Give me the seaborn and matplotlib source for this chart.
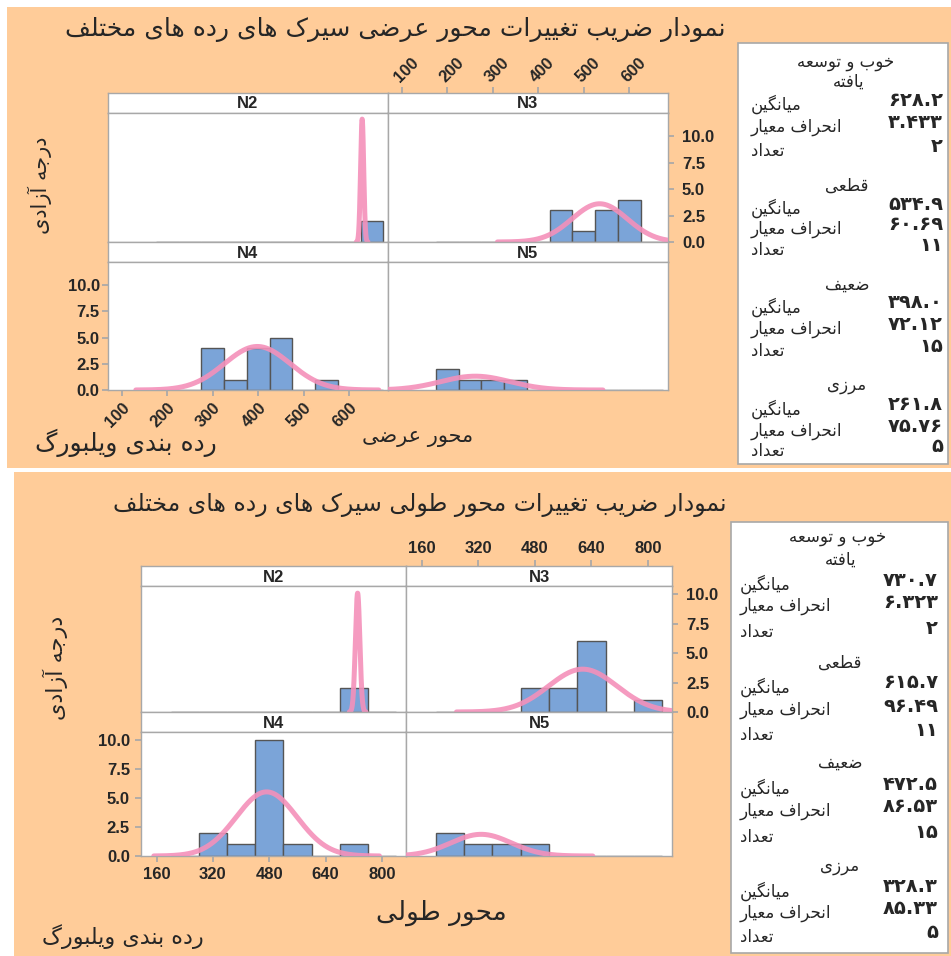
import numpy as np
import pandas as pd
import matplotlib
matplotlib.use("Agg")
import matplotlib.pyplot as plt
from matplotlib.patches import Rectangle
import seaborn as sns

# ---------------- data ----------------
panels = ["N2", "N3", "N4", "N5"]
groups = ["خوب و توسعه یافته", "قطعی", "ضعیف", "مرزی"]
stat_labels = ["میانگین", "انحراف معیار", "تعداد"]

# top chart: محور عرضی
w_bins = [175, 225, 275, 325, 375, 425, 475, 525, 575, 625, 675]
w_centers = [200, 250, 300, 350, 400, 450, 500, 550, 600, 650]
w_counts_N2 = [0, 0, 0, 0, 0, 0, 0, 0, 0, 2]
w_counts_N3 = [0, 0, 0, 0, 0, 3, 1, 3, 4, 0]
w_counts_N4 = [0, 0, 4, 1, 4, 5, 0, 1, 0, 0]
w_counts_N5 = [2, 1, 1, 1, 0, 0, 0, 0, 0, 0]
w_mean = [628.2, 534.9, 398.0, 261.8]
w_sd = [3.433, 60.69, 72.12, 75.76]
w_n = [2, 11, 15, 5]
w_xticks = [100, 200, 300, 400, 500, 600]

# bottom chart: محور طولی
l_bins = [200, 280, 360, 440, 520, 600, 680, 760, 840]
l_centers = [240, 320, 400, 480, 560, 640, 720, 800]
l_counts_N2 = [0, 0, 0, 0, 0, 0, 2, 0]
l_counts_N3 = [0, 0, 0, 2, 2, 6, 0, 1]
l_counts_N4 = [0, 2, 1, 10, 1, 0, 1, 0]
l_counts_N5 = [2, 1, 1, 1, 0, 0, 0, 0]
l_mean = [730.7, 615.7, 472.5, 328.3]
l_sd = [6.323, 96.49, 86.53, 85.33]
l_n = [2, 11, 15, 5]
l_xticks = [160, 320, 480, 640, 800]

y_ticks = [0.0, 2.5, 5.0, 7.5, 10.0]

# ---------------- Persian shaping ----------------
FORMS = {
    '\u0627': ('\uFE8D', '\uFE8E', None, None),
    '\u0622': ('\uFE81', '\uFE82', None, None),
    '\u0628': ('\uFE8F', '\uFE90', '\uFE91', '\uFE92'),
    '\u067E': ('\uFB56', '\uFB57', '\uFB58', '\uFB59'),
    '\u062A': ('\uFE95', '\uFE96', '\uFE97', '\uFE98'),
    '\u062B': ('\uFE99', '\uFE9A', '\uFE9B', '\uFE9C'),
    '\u062C': ('\uFE9D', '\uFE9E', '\uFE9F', '\uFEA0'),
    '\u0686': ('\uFB7A', '\uFB7B', '\uFB7C', '\uFB7D'),
    '\u062D': ('\uFEA1', '\uFEA2', '\uFEA3', '\uFEA4'),
    '\u062E': ('\uFEA5', '\uFEA6', '\uFEA7', '\uFEA8'),
    '\u062F': ('\uFEA9', '\uFEAA', None, None),
    '\u0630': ('\uFEAB', '\uFEAC', None, None),
    '\u0631': ('\uFEAD', '\uFEAE', None, None),
    '\u0632': ('\uFEAF', '\uFEB0', None, None),
    '\u0698': ('\uFB8A', '\uFB8B', None, None),
    '\u0633': ('\uFEB1', '\uFEB2', '\uFEB3', '\uFEB4'),
    '\u0634': ('\uFEB5', '\uFEB6', '\uFEB7', '\uFEB8'),
    '\u0635': ('\uFEB9', '\uFEBA', '\uFEBB', '\uFEBC'),
    '\u0636': ('\uFEBD', '\uFEBE', '\uFEBF', '\uFEC0'),
    '\u0637': ('\uFEC1', '\uFEC2', '\uFEC3', '\uFEC4'),
    '\u0638': ('\uFEC5', '\uFEC6', '\uFEC7', '\uFEC8'),
    '\u0639': ('\uFEC9', '\uFECA', '\uFECB', '\uFECC'),
    '\u063A': ('\uFECD', '\uFECE', '\uFECF', '\uFED0'),
    '\u0641': ('\uFED1', '\uFED2', '\uFED3', '\uFED4'),
    '\u0642': ('\uFED5', '\uFED6', '\uFED7', '\uFED8'),
    '\u06A9': ('\uFB8E', '\uFB8F', '\uFB90', '\uFB91'),
    '\u06AF': ('\uFB92', '\uFB93', '\uFB94', '\uFB95'),
    '\u0644': ('\uFEDD', '\uFEDE', '\uFEDF', '\uFEE0'),
    '\u0645': ('\uFEE1', '\uFEE2', '\uFEE3', '\uFEE4'),
    '\u0646': ('\uFEE5', '\uFEE6', '\uFEE7', '\uFEE8'),
    '\u0647': ('\uFEE9', '\uFEEA', '\uFEEB', '\uFEEC'),
    '\u0648': ('\uFEED', '\uFEEE', None, None),
    '\u06CC': ('\uFBFC', '\uFBFD', '\uFBFE', '\uFBFF'),
}


def fa(text):
    chars = list(text)
    out = []
    for i, c in enumerate(chars):
        if c not in FORMS:
            out.append(c)
            continue
        prev = chars[i - 1] if i > 0 else None
        nxt = chars[i + 1] if i + 1 < len(chars) else None
        jp = prev in FORMS and FORMS[prev][2] is not None
        jn = nxt in FORMS and FORMS[c][2] is not None
        iso, fin, ini, med = FORMS[c]
        if jp and jn:
            out.append(med)
        elif jp:
            out.append(fin)
        elif jn:
            out.append(ini)
        else:
            out.append(iso)
    return "".join(reversed(out))


FA_DIGITS = str.maketrans("0123456789", "۰۱۲۳۴۵۶۷۸۹")


def fa_num(v, fmt):
    return format(v, fmt).translate(FA_DIGITS)


# ---------------- figure ----------------
sns.set_theme(style="white")
plt.rcParams["font.family"] = ["Liberation Sans", "DejaVu Sans"]
W, H = 951, 956
fig = plt.figure(figsize=(W / 100, H / 100), dpi=100)
fig.patch.set_facecolor("white")

ORANGE = "#FFCC99"
BAR = "#7BA4D8"
EDGE = "#555555"
PINK = "#F490BA"
GRAY = "#A8A8A8"
FA_FONT = "DejaVu Sans"


def frect(x0, y0, x1, y1, fc, ec="none", lw=0, z=-2):
    fig.patches.append(Rectangle((x0 / W, 1 - y1 / H), (x1 - x0) / W, (y1 - y0) / H,
                                 transform=fig.transFigure, facecolor=fc,
                                 edgecolor=ec, linewidth=lw, zorder=z))


def add_ax(x0, y0, x1, y1):
    ax = fig.add_axes([x0 / W, 1 - y1 / H, (x1 - x0) / W, (y1 - y0) / H])
    ax.set_zorder(2)
    return ax


def ftext(x, y, s, **kw):
    fig.text(x / W, 1 - y / H, s, zorder=5, **kw)


frect(7, 7, 951, 468, ORANGE)
frect(14, 472, 951, 956, ORANGE)

tick_font = dict(fontsize=12, fontweight="bold", family="Liberation Sans")


def style_ax(ax):
    ax.set_facecolor("white")
    for s in ax.spines.values():
        s.set_color(GRAY)
        s.set_linewidth(1.0)
        s.set_visible(True)
    ax.tick_params(length=0, labelbottom=False, labelleft=False)
    ax.set_xlabel("")
    ax.set_ylabel("")


def draw_chart(cols, rows, xlim, ymax, bins, centers, counts, means, sds, xticks,
               rotate, top_pad, right_pad, left_pad, bottom_pad):
    x0, x1, x2 = cols
    h1a, h1b, p1b, h2b, p2b = rows
    cells = [(x0, x1, h1a, h1b, p1b), (x1, x2, h1a, h1b, p1b),
             (x0, x1, p1b, h2b, p2b), (x1, x2, p1b, h2b, p2b)]
    for k, (ca, cb, ha, hb, pb) in enumerate(cells):
        hax = add_ax(ca, ha, cb, hb)
        style_ax(hax)
        hax.set_xlim(xlim)
        hax.set_yticks([])
        hax.set_xticks([])
        hax.text(0.5, 0.45, panels[k], transform=hax.transAxes, ha="center", va="center",
                 fontsize=12, fontweight="bold", family="Liberation Sans")
        ax = add_ax(ca, hb, cb, pb)
        df = pd.DataFrame({"x": centers, "w": counts[k]})
        sns.histplot(data=df, x="x", weights="w", bins=bins, ax=ax, color=BAR,
                     edgecolor=EDGE, linewidth=1.0, alpha=1.0, zorder=2)
        xs = np.linspace(means[k] - 3.7 * sds[k], means[k] + 3.7 * sds[k], 600)
        scale = sum(counts[k]) * (bins[1] - bins[0])
        ys = scale / (sds[k] * np.sqrt(2 * np.pi)) * np.exp(-0.5 * ((xs - means[k]) / sds[k]) ** 2)
        sns.lineplot(x=xs, y=ys, ax=ax, color=PINK, linewidth=3.6, alpha=0.9, zorder=3,
                     solid_capstyle="round")
        ax.set_xlim(xlim)
        ax.set_ylim(0, ymax)
        style_ax(ax)
        ax.set_xticks([])
        ax.set_yticks([])
        if k == 1:
            hax.set_xticks(xticks)
            hax.xaxis.tick_top()
            hax.tick_params(axis="x", top=True, length=4, color=GRAY, labeltop=True,
                            pad=top_pad)
            if rotate:
                hax.set_xticklabels([str(t) for t in xticks], rotation=45, ha="left",
                                    va="bottom", rotation_mode="anchor", **tick_font)
            else:
                hax.set_xticklabels([str(t) for t in xticks], **tick_font)
            ax.set_yticks(y_ticks)
            ax.yaxis.tick_right()
            ax.tick_params(axis="y", right=True, length=4, color=GRAY, labelright=True,
                           pad=right_pad)
            ax.set_yticklabels([f"{t:.1f}" for t in y_ticks], **tick_font)
        if k == 2:
            ax.set_yticks(y_ticks)
            ax.tick_params(axis="y", left=True, length=4, color=GRAY, labelleft=True,
                           pad=left_pad)
            ax.set_yticklabels([f"{t:.1f}" for t in y_ticks], **tick_font)
            ax.set_xticks(xticks)
            ax.tick_params(axis="x", bottom=True, length=4, color=GRAY, labelbottom=True,
                           pad=bottom_pad)
            if rotate:
                ax.set_xticklabels([str(t) for t in xticks], rotation=45, ha="right",
                                   va="top", rotation_mode="anchor", **tick_font)
            else:
                ax.set_xticklabels([str(t) for t in xticks], **tick_font)


w_counts = [w_counts_N2, w_counts_N3, w_counts_N4, w_counts_N5]
l_counts = [l_counts_N2, l_counts_N3, l_counts_N4, l_counts_N5]

draw_chart((108, 388, 668), (93, 113, 242, 262, 390), (70, 685), 12.2,
           w_bins, w_centers, w_counts, w_mean, w_sd, w_xticks, True,
           top_pad=2, right_pad=6, left_pad=2, bottom_pad=3)
draw_chart((141, 406, 672), (566, 586, 712, 732, 856), (116, 868), 10.7,
           l_bins, l_centers, l_counts, l_mean, l_sd, l_xticks, False,
           top_pad=3, right_pad=6, left_pad=4, bottom_pad=4)

# ---------------- titles and labels ----------------
ftext(395, 30, fa("نمودار ضریب تغییرات محور عرضی سیرک های رده های مختلف"),
      ha="center", va="center", fontsize=18, family=FA_FONT)
ftext(420, 505, fa("نمودار ضریب تغییرات محور طولی سیرک های رده های مختلف"),
      ha="center", va="center", fontsize=17, family=FA_FONT)
ftext(418, 437, fa("محور عرضی"), ha="center", va="center", fontsize=15, family=FA_FONT)
ftext(126, 443, fa("رده بندی ویلبورگ"), ha="center", va="center", fontsize=18, family=FA_FONT)
ftext(441, 913, fa("محور طولی"), ha="center", va="center", fontsize=19, family=FA_FONT)
ftext(123, 937, fa("رده بندی ویلبورگ"), ha="center", va="center", fontsize=16, family=FA_FONT)
ftext(40, 185, fa("درجه آزادی"), ha="center", va="center", rotation=90, fontsize=15,
      family=FA_FONT)
ftext(55, 668, fa("درجه آزادی"), ha="center", va="center", rotation=90, fontsize=16,
      family=FA_FONT)


# ---------------- side statistics boxes ----------------
def side_box(x0, y0, x1, y1, ys, means, sds, ns, lab_x, val_x, c_first, c_grp):
    frect(x0, y0, x1, y1, "white", ec=GRAY, lw=1.2, z=-1)
    for g in range(4):
        ty = ys[g]
        if g == 0:
            ftext(c_first, ty[0], fa("خوب و توسعه"), ha="center", va="center",
                  fontsize=12, family=FA_FONT)
            ftext(c_first + 3, ty[1], fa("یافته"), ha="center", va="center",
                  fontsize=12, family=FA_FONT)
            rest = ty[2:]
        else:
            ftext(c_grp, ty[0], fa(groups[g]), ha="center", va="center",
                  fontsize=12, family=FA_FONT)
            rest = ty[1:]
        vals = [fa_num(means[g], "#.4g"), fa_num(sds[g], "#.4g"), fa_num(ns[g], "d")]
        for j in range(3):
            ftext(lab_x, rest[j], fa(stat_labels[j]), ha="left", va="center",
                  fontsize=12, family=FA_FONT)
            ftext(val_x, rest[j] - 4, vals[j], ha="right", va="center", fontsize=14,
                  fontweight="bold", family=FA_FONT)


side_box(738, 43, 948, 464,
         [(62, 82, 104, 127, 151), (186, 208, 229, 250), (285, 307, 329, 351),
          (385, 409, 431, 451)], w_mean, w_sd, w_n, 751, 943, 846, 847)
side_box(731, 522, 948, 953,
         [(537, 560, 584, 606, 632), (663, 687, 710, 735), (763, 788, 811, 837),
          (866, 891, 913, 937)], l_mean, l_sd, l_n, 740, 938, 838, 840)

fig.savefig("out.png", dpi=100, facecolor="white")
